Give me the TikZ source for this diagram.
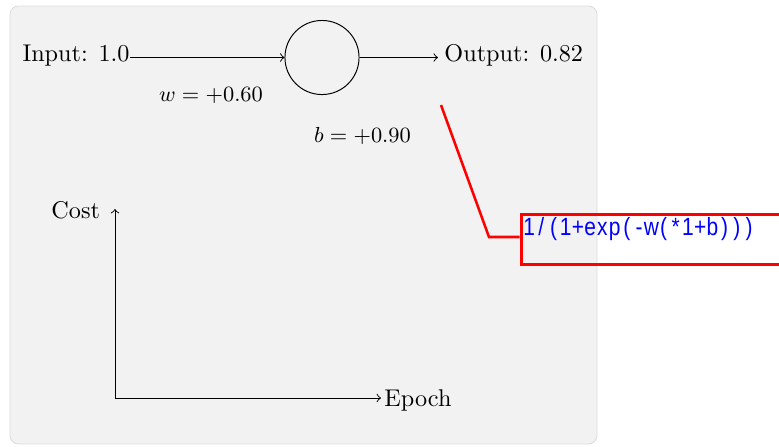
\documentclass[tikz,border=0pt]{standalone}
\usepackage{fontspec}
\newfontfamily\formulafont[FakeStretch=0.84]{Liberation Sans}
\definecolor{bgfill}{HTML}{F2F2F2}
\definecolor{bgline}{HTML}{DCDCDC}
\newcommand\mc[1]{\makebox[5.05pt][c]{#1}}
\begin{document}
\begin{tikzpicture}[x=0.413pt,y=-0.413pt,
  lbl/.style={font=\fontsize{10}{12}\selectfont, inner sep=0pt},
  param/.style={font=\fontsize{9}{11}\selectfont, inner sep=0pt},
  ax/.style={->, line width=0.4pt},
  callout/.style={red, line width=1.05pt}]
\useasboundingbox (0,0) rectangle (779,446);
\filldraw[fill=bgfill, draw=bgline, line width=0.35pt, rounded corners=3.5pt] (10,6) rectangle (597,444);
% neuron
\node[lbl, anchor=base east] (in) at (130,61) {Input: 1.0};
\node[draw, circle, minimum size=30.6pt, inner sep=0pt, line width=0.4pt] (neuron) at (322,57.5) {};
\node[lbl, anchor=base west] (out) at (444,61) {Output: 0.82};
\draw[ax] (in.east |- neuron) -- (neuron);
\draw[ax, shorten >=2.5pt] (neuron) -- (out.west |- neuron);
\node[param, anchor=base] (w) at (211,101.5) {$w = +0.60$};
\node[param, anchor=base] (b) at (362.5,142.5) {$b = +0.90$};
% axes
\coordinate (o) at (115,398);
\coordinate (ytop) at (115,209);
\coordinate (xend) at (381,398);
\node[lbl, anchor=base east] (cost) at (100.5,218) {Cost};
\node[lbl, anchor=base west] (epoch) at (384,406) {Epoch};
\draw[ax] (o) -- (ytop);
\draw[ax] (o) -- (xend);
% callout
\coordinate (cstart) at (441,105);
\coordinate (cbend) at (489,237);
\node[draw=red, line width=1.25pt, anchor=north west, minimum width=300*0.413pt, minimum height=50*0.413pt, inner sep=0pt] (box) at (519.5,213) {};
\node[inner sep=0pt, anchor=base west, text=blue, font=\formulafont\fontsize{10.3}{12}\selectfont] (formula) at (522.5,235)
  {\mc{1}\mc{/}\mc{(}\mc{1}\mc{+}\mc{e}\mc{x}\mc{p}\mc{(}\mc{-}\mc{w}\mc{(}\mc{*}\mc{1}\mc{+}\mc{b}\mc{)}\mc{)}\mc{)}};
\draw[callout] (cstart) -- (cbend) -- (cbend -| box.west);
\end{tikzpicture}
\end{document}
